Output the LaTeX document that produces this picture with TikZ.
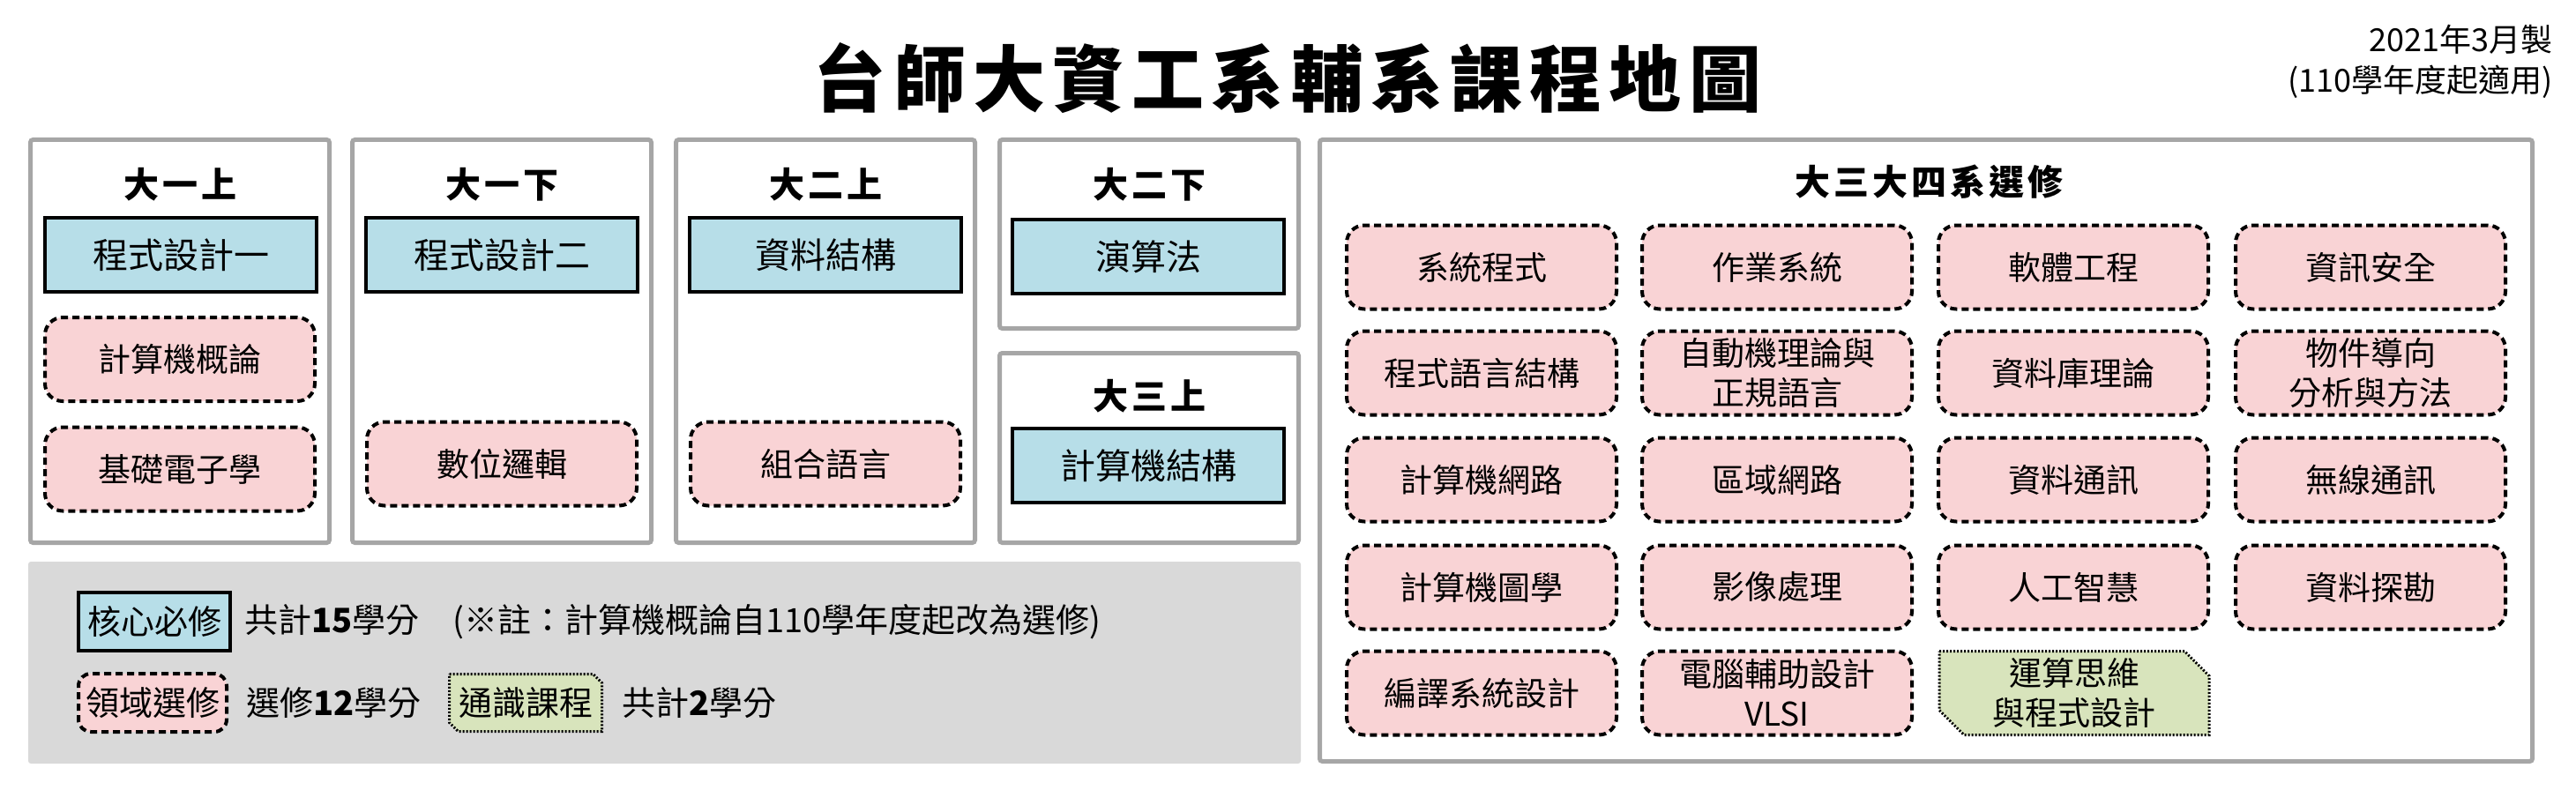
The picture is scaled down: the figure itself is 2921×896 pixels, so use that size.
\documentclass[tikz,border=0pt]{standalone}
\usepackage{fontspec}
\setmainfont{Noto Sans CJK TC}
\newfontfamily\brush[LetterSpace=10]{Noto Sans CJK TC}
\usepackage{tikz}
\usetikzlibrary{positioning}
\definecolor{kjerneblaa}{HTML}{B7DEE8}
\definecolor{valgrosa}{HTML}{F9D3D5}
\definecolor{fellesgronn}{HTML}{D8E4BC}
\definecolor{rammegraa}{HTML}{A6A6A6}
\definecolor{bunngraa}{HTML}{D9D9D9}
\tikzset{
    %Define style for semester frames
    ramme/.style={
           rectangle,
           rounded corners=3pt,
           draw=rammegraa, line width=5pt},
    %Define style for headings
    overskrift/.style={
           font=\brush\bfseries\fontsize{40}{48}\selectfont},
    %Define style for core courses
    kjerne/.style={
           rectangle,
           draw=black, line width=4pt,
           fill=kjerneblaa,
           minimum width=308pt,
           minimum height=84pt,
           font=\fontsize{40}{48}\selectfont},
    %Define style for elective courses
    valg/.style={
           rectangle,
           rounded corners=20pt,
           draw=black, line width=4pt,
           dash pattern=on 8pt off 5pt,
           fill=valgrosa,
           minimum width=306pt,
           minimum height=95pt,
           align=center,
           font=\fontsize{37}{45}\selectfont},
    %Define style for general courses (snipped corners)
    fellesramme/.style={
           draw=black, line width=3pt,
           dash pattern=on 2pt off 2pt,
           fill=fellesgronn},
    felles/.style={
           minimum width=306pt,
           minimum height=95pt,
           align=center,
           font=\fontsize{37}{45}\selectfont},
    % Define style for legend text
    tekst/.style={
           font=\fontsize{38}{45}\selectfont}
}

\begin{document}
\begin{tikzpicture}[x=1pt,y=-1pt,every node/.style={inner sep=0pt}]
\useasboundingbox (0,0) rectangle (2921,896);
\node[font=\brush\bfseries\fontsize{82}{90}\selectfont] (titel) at (1460,89) {台師大資工系輔系課程地圖};
\node[anchor=north east, align=right, font=\fontsize{36}{46}\selectfont] (dato) at (2895,28) {2021年3月製\\(110學年度起適用)};
% semester frames
\node[ramme, minimum width=339pt, minimum height=457pt] (s1) at (204,387) {};
\node[ramme, minimum width=339pt, minimum height=457pt] (s2) at (569,387) {};
\node[ramme, minimum width=339pt, minimum height=457pt] (s3) at (936,387) {};
\node[ramme, minimum width=339pt, minimum height=214pt] (s4) at (1303,265.5) {};
\node[ramme, minimum width=339pt, minimum height=215pt] (s5) at (1303,508) {};
\node[ramme, minimum width=1375pt, minimum height=705pt] (s6) at (2184,511) {};
\node[overskrift] (h1) at (204,209) {大一上};
\node[overskrift] (h2) at (569,209) {大一下};
\node[overskrift] (h3) at (936,209) {大二上};
\node[overskrift] (h4) at (1303,209) {大二下};
\node[overskrift] (h5) at (1303,449) {大三上};
\node[overskrift] (h6) at (2187,206) {大三大四系選修};
% core courses
\node[kjerne] (c1) at (205,289) {程式設計一};
\node[kjerne] (c2) at (569,289) {程式設計二};
\node[kjerne] (c3) at (936,289) {資料結構};
\node[kjerne] (c4) at (1302,291) {演算法};
\node[kjerne] (c5) at (1302,528) {計算機結構};
% electives, first years
\node[valg] (e1) at (204,407.5) {計算機概論};
\node[valg] (e2) at (204,532) {基礎電子學};
\node[valg] (e3) at (569,526) {數位邏輯};
\node[valg] (e4) at (936,526) {組合語言};
% electives, third and fourth year
\node[valg] (r11) at (1680,303) {系統程式};
\node[valg] (r12) at (2015,303) {作業系統};
\node[valg] (r13) at (2351,303) {軟體工程};
\node[valg] (r14) at (2688,303) {資訊安全};
\node[valg] (r21) at (1680,423) {程式語言結構};
\node[valg] (r22) at (2015,423) {自動機理論與\\正規語言};
\node[valg] (r23) at (2351,423) {資料庫理論};
\node[valg] (r24) at (2688,423) {物件導向\\分析與方法};
\node[valg] (r31) at (1680,544) {計算機網路};
\node[valg] (r32) at (2015,544) {區域網路};
\node[valg] (r33) at (2351,544) {資料通訊};
\node[valg] (r34) at (2688,544) {無線通訊};
\node[valg] (r41) at (1680,666) {計算機圖學};
\node[valg] (r42) at (2015,666) {影像處理};
\node[valg] (r43) at (2351,666) {人工智慧};
\node[valg] (r44) at (2688,666) {資料探勘};
\node[valg] (r51) at (1680,786) {編譯系統設計};
\node[valg] (r52) at (2015,786) {電腦輔助設計\\VLSI};
\draw[fellesramme] (2199,738.5) -- (2477,738.5) -- (2505,766.5) -- (2505,833.5)
    -- (2227,833.5) -- (2199,805.5) -- cycle;
\node[felles] (r53) at (2352,786) {運算思維\\與程式設計};
% legend
\node[fill=bunngraa, rounded corners=3pt, minimum width=1443pt, minimum height=229pt] (bunn) at (753.5,751.5) {};
\node[kjerne, minimum width=172pt, minimum height=66pt, font=\fontsize{38}{45}\selectfont] (k1) at (175,705) {核心必修};
\node[tekst, right=14pt of k1] (k1t) {共計\textbf{15}學分\quad(※註：計算機概論自110學年度起改為選修)};
\node[valg, minimum width=168pt, minimum height=66pt, rounded corners=14pt, font=\fontsize{38}{45}\selectfont] (v1) at (173,797) {領域選修};
\node[tekst, right=20pt of v1] (v1t) {選修\textbf{12}學分};
\draw[fellesramme] (509.5,764.5) -- (672.5,764.5) -- (682.5,774.5) -- (682.5,829.5)
    -- (519.5,829.5) -- (509.5,819.5) -- cycle;
\node[felles, minimum width=174pt, minimum height=66pt, font=\fontsize{38}{45}\selectfont] (g1) at (596,797) {通識課程};
\node[tekst, right=22pt of g1] (g1t) {共計\textbf{2}學分};
\end{tikzpicture}
\end{document}
